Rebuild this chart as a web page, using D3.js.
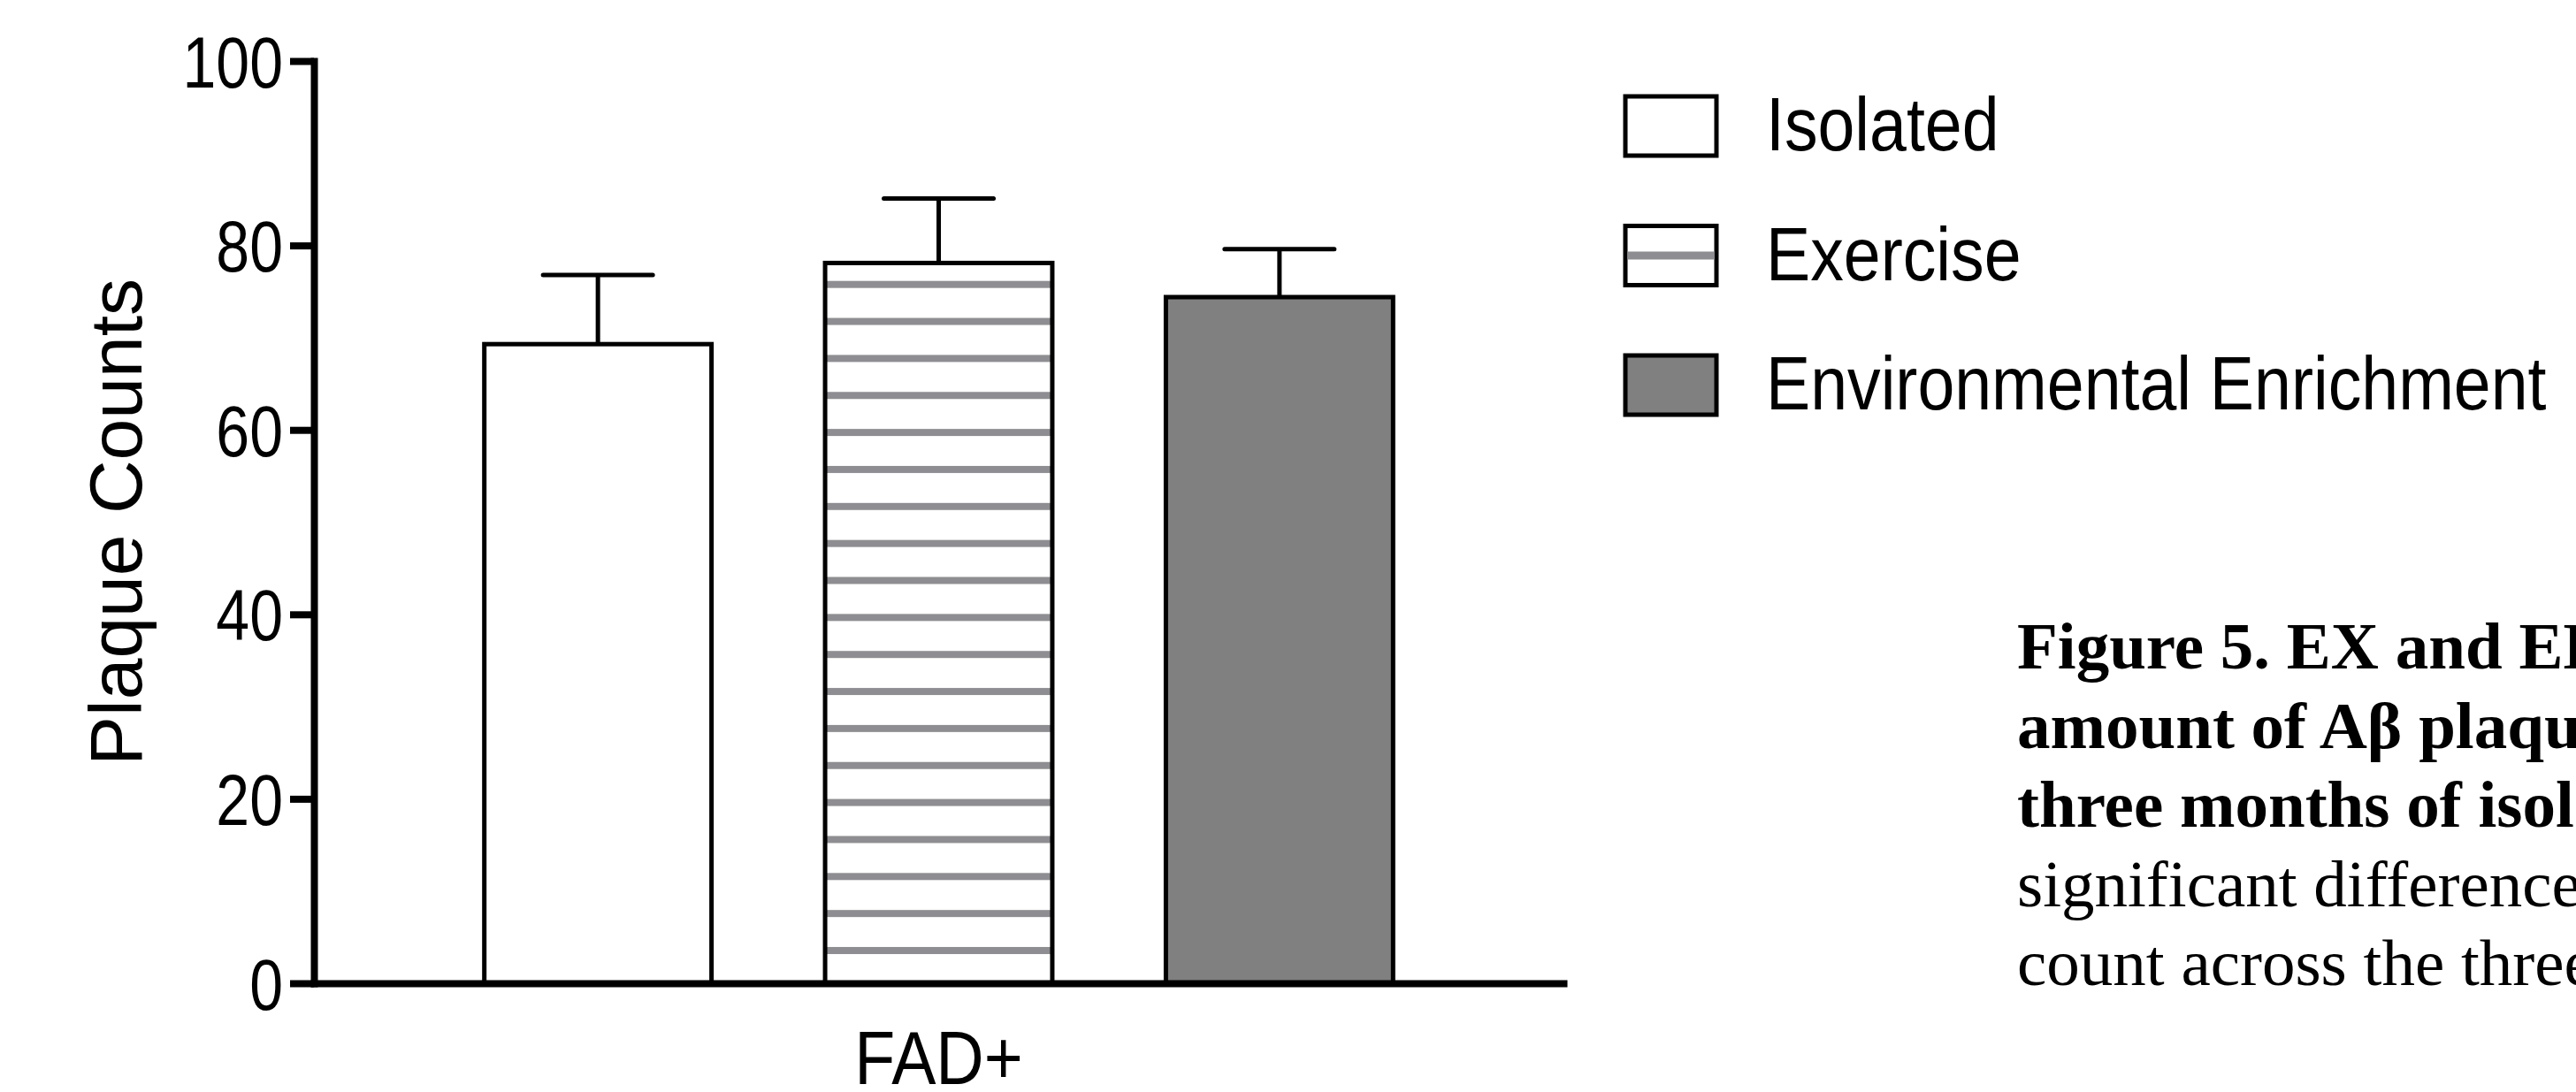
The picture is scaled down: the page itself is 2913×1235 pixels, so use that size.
<!DOCTYPE html>
<html>
<head>
<meta charset="utf-8">
<script src="https://cdn.jsdelivr.net/npm/d3@7"></script>
<style>
body { margin:0; background:#ffffff; }
svg { display:block; background:#ffffff; }
.chart-text { font-family:"Liberation Sans", Arial, Helvetica, sans-serif; fill:#000; }
.caption { font-family:"Liberation Serif", "Times New Roman", serif; font-size:75px; fill:#000; }
</style>
</head>
<body>
<svg id="chart"></svg>
<script>
// Groups, means and error bars
var groups = ["Isolated", "Exercise", "Environmental Enrichment"];
var means = [69.3, 78.1, 74.4];
var errors = [7.5, 7.0, 5.2];
var yTicks = [0, 20, 40, 60, 80, 100];
var xCategory = "FAD+";
var yTitle = "Plaque Counts";
var captionBold = ["Figure 5. EX and EE", "amount of A\u03b2 plaques", "three months of isolation"];
var captionPlain = ["significant differences", "count across the three"];

// the chart graphic is squeezed sideways in the original
var squeeze = 0.84;
var squeezeLabel = 0.875;

var initGraph = function(target) {
    var screen = {width:2913, height:1235};
    var plot = {left:355, right:1768, top:69, bottom:1112};

    var svg = d3.select(target)
        .attr("width", screen.width)
        .attr("height", screen.height);

    var xScale = d3.scaleBand()
        .domain(groups)
        .range([plot.left, plot.right])
        .paddingInner(1/3)
        .paddingOuter(0.5);

    var yScale = d3.scaleLinear()
        .domain([0, 100])
        .range([plot.bottom, plot.top]);

    var fillScale = d3.scaleOrdinal()
        .domain(groups)
        .range(["#ffffff", "url(#hatch)", "#808080"]);

    // horizontal stripes for the exercise bar
    var gap = 41.85;
    var pattern = svg.append("defs")
        .append("pattern")
        .attr("id", "hatch")
        .attr("patternUnits", "userSpaceOnUse")
        .attr("width", 10)
        .attr("height", gap)
        .attr("y", yScale(0) - 37 - gap / 2);
    pattern.append("rect")
        .attr("width", 10).attr("height", gap)
        .attr("fill", "#ffffff");
    pattern.append("rect")
        .attr("y", gap / 2 - 4)
        .attr("width", 10).attr("height", 8)
        .attr("fill", "#8e8e92");

    var rows = groups.map(function(g, i) {
        return {group:g, mean:means[i], err:errors[i]};
    });

    drawBars(svg, rows, xScale, yScale, fillScale);
    createAxes(svg, xScale, yScale, plot);
    drawLegend(svg, fillScale);
    drawCaption(svg);
}

// Draws the bars with their error bars
var drawBars = function(svg, rows, xScale, yScale, fillScale) {
    var g = svg.append("g").classed("bars", true);

    g.selectAll("rect")
        .data(rows)
        .enter()
        .append("rect")
        .attr("x", function(d) { return xScale(d.group); })
        .attr("y", function(d) { return yScale(d.mean); })
        .attr("width", xScale.bandwidth())
        .attr("height", function(d) { return yScale(0) - yScale(d.mean); })
        .attr("fill", function(d) { return fillScale(d.group); })
        .attr("stroke", "#000")
        .attr("stroke-width", 5);

    var errs = g.selectAll(".err")
        .data(rows)
        .enter()
        .append("g")
        .classed("err", true)
        .attr("stroke", "#000")
        .attr("stroke-width", 5)
        .attr("stroke-linecap", "round");

    errs.append("line")
        .attr("x1", function(d) { return xScale(d.group) + xScale.bandwidth() / 2; })
        .attr("x2", function(d) { return xScale(d.group) + xScale.bandwidth() / 2; })
        .attr("y1", function(d) { return yScale(d.mean); })
        .attr("y2", function(d) { return yScale(d.mean + d.err); })
        .attr("stroke-linecap", "butt");

    errs.append("line")
        .attr("x1", function(d) { return xScale(d.group) + xScale.bandwidth() / 2 - 62; })
        .attr("x2", function(d) { return xScale(d.group) + xScale.bandwidth() / 2 + 62; })
        .attr("y1", function(d) { return yScale(d.mean + d.err); })
        .attr("y2", function(d) { return yScale(d.mean + d.err); });
}

// Creates the axes and their titles
var createAxes = function(svg, xScale, yScale, plot) {
    var yAxis = d3.axisLeft(yScale)
        .tickValues(yTicks)
        .tickSize(27)
        .tickSizeOuter(0);

    var xAxis = d3.axisBottom(xScale)
        .tickSize(0)
        .tickSizeOuter(0)
        .tickFormat("");

    var gx = svg.append("g")
        .attr("transform", "translate(0," + yScale(0) + ")")
        .call(xAxis);
    gx.selectAll(".tick").remove();
    gx.select(".domain")
        .attr("stroke-width", 8)
        .attr("stroke-linecap", "square");

    var gy = svg.append("g")
        .attr("transform", "translate(" + plot.left + ",0)")
        .call(yAxis);
    gy.select(".domain")
        .attr("stroke-width", 8)
        .attr("stroke-linecap", "square");
    gy.selectAll(".tick line")
        .attr("stroke-width", 8);
    gy.selectAll(".tick text")
        .classed("chart-text", true)
        .attr("font-size", 81)
        .attr("font-family", null)
        .attr("x", -35 / squeeze)
        .attr("dy", "0.36em")
        .attr("transform", "scale(" + squeeze + ",1)");

    // x category label
    svg.append("text")
        .classed("chart-text", true)
        .attr("font-size", 86)
        .attr("text-anchor", "middle")
        .attr("transform", "translate(" + ((plot.left + plot.right) / 2) + "," + 1226 + ") scale(" + squeezeLabel + ",1)")
        .text(xCategory);

    // y title
    svg.append("text")
        .classed("chart-text", true)
        .attr("font-size", 84)
        .attr("text-anchor", "middle")
        .attr("transform", "translate(160," + ((plot.top + plot.bottom) / 2) + ") rotate(-90)")
        .text(yTitle);
}

// Draws the legend to the right of the plot
var drawLegend = function(svg, fillScale) {
    var legend = svg.append("g")
        .classed("legend", true)
        .attr("transform", "translate(1838,109)");

    var items = legend.selectAll("g")
        .data(groups)
        .enter()
        .append("g")
        .attr("transform", function(d, i) { return "translate(0," + (i * 146.5) + ")"; });

    items.append("rect")
        .attr("width", 103)
        .attr("height", 67)
        .attr("fill", function(d) {
            var f = fillScale(d);
            return f.indexOf("url") === 0 ? "#ffffff" : f;
        })
        .attr("stroke", "#000")
        .attr("stroke-width", 5);

    // single stripe for the hatched entry
    items.filter(function(d) { return fillScale(d).indexOf("url") === 0; })
        .append("line")
        .attr("x1", 2.5).attr("x2", 100.5)
        .attr("y1", 33.5).attr("y2", 33.5)
        .attr("stroke", "#8e8e92")
        .attr("stroke-width", 9);

    items.append("text")
        .classed("chart-text", true)
        .attr("font-size", 86)
        .attr("transform", "translate(159,61) scale(" + squeezeLabel + ",1)")
        .text(function(d) { return d; });
}

// Draws the figure caption, cut off at the right edge
var drawCaption = function(svg) {
    var lines = captionBold.map(function(t) { return {text:t, bold:true}; })
        .concat(captionPlain.map(function(t) { return {text:t, bold:false}; }));

    svg.append("g")
        .selectAll("text")
        .data(lines)
        .enter()
        .append("text")
        .classed("caption", true)
        .attr("x", 2281)
        .attr("y", function(d, i) { return 756 + i * 89.6; })
        .attr("font-weight", function(d) { return d.bold ? "bold" : "normal"; })
        .text(function(d) { return d.text; });
}

initGraph("#chart");
</script>
</body>
</html>
